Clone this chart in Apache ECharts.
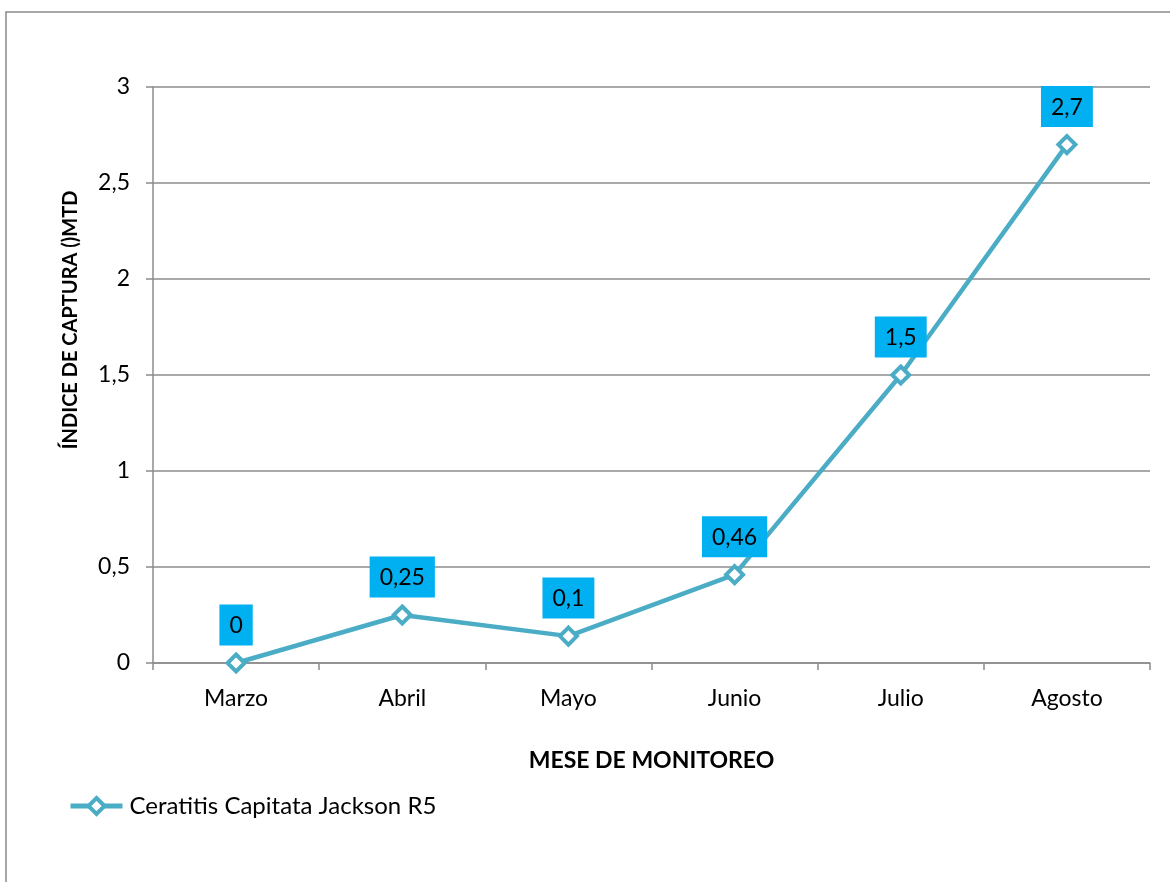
<!DOCTYPE html>
<html>
<head>
<meta charset="utf-8">
<script src="https://cdn.jsdelivr.net/npm/echarts@6/dist/echarts.min.js"></script>
<style>html,body{margin:0;padding:0;background:#fff;}#c{width:1170px;height:882px;}</style>
</head>
<body>
<div id="c"></div>
<script>
const categories = ["Marzo", "Abril", "Mayo", "Junio", "Julio", "Agosto"];
const values = [0, 0.25, 0.14, 0.46, 1.5, 2.7];
const valueLabels = ["0", "0,25", "0,1", "0,46", "1,5", "2,7"];
const seriesName = "Ceratitis Capitata Jackson R5";
const yTitle = "ÍNDICE DE CAPTURA ()MTD";
const xTitle = "MESE DE MONITOREO";

const FONT = "Lato";
const chart = echarts.init(document.getElementById('c'));
chart.setOption({
  animation: false,
  backgroundColor: '#fff',
  textStyle: { fontFamily: FONT },
  graphic: [{
    type: 'rect', shape: { x: 6, y: 12, width: 1200, height: 900 },
    style: { fill: 'none', stroke: '#8a8a8a', lineWidth: 1.5 }
  }, {
    type: 'text', x: 71, y: 320, rotation: Math.PI / 2,
    style: {
      text: yTitle, fontSize: 20, fontWeight: 'bold', fontFamily: FONT, fill: '#000',
      align: 'center', verticalAlign: 'middle'
    }
  }],
  grid: { left: 153, right: 20, top: 87, bottom: 219, containLabel: false },
  legend: {
    show: true, left: 68, top: 794, padding: 0, itemWidth: 52, itemHeight: 20,
    data: [seriesName],
    lineStyle: { width: 5 },
    itemStyle: { borderWidth: 4 },
    textStyle: { fontSize: 24, color: '#000', fontFamily: FONT, padding: [0, 0, 0, 2] }
  },
  xAxis: {
    type: 'category', data: categories, boundaryGap: true,
    name: xTitle, nameLocation: 'middle', nameGap: 86,
    nameTextStyle: { fontSize: 23, fontWeight: 'bold', color: '#000', fontFamily: FONT },
    axisLine: { lineStyle: { color: '#8c8c8c', width: 1.5 } },
    axisTick: { show: true, length: 7, lineStyle: { color: '#8c8c8c', width: 1.5 } },
    axisLabel: { fontSize: 23, color: '#000', margin: 24, fontFamily: FONT }
  },
  yAxis: {
    type: 'value', min: 0, max: 3, interval: 0.5,
    axisLine: { show: true, lineStyle: { color: '#8c8c8c', width: 1.5 } },
    axisTick: { show: true, length: 7, lineStyle: { color: '#8c8c8c', width: 1.5 } },
    splitLine: { show: true, lineStyle: { color: '#8c8c8c', width: 1.5 } },
    axisLabel: {
      fontSize: 23, color: '#000', margin: 23, fontFamily: FONT,
      formatter: v => String(v).replace('.', ',')
    }
  },
  series: [{
    name: seriesName, type: 'line', data: values,
    symbol: 'diamond', symbolSize: 17, showAllSymbol: true,
    lineStyle: { color: '#4BACC6', width: 4.5 },
    itemStyle: { color: '#ffffff', borderColor: '#4BACC6', borderWidth: 4 },
    label: {
      show: true, position: 'top', distance: 7,
      formatter: p => valueLabels[p.dataIndex],
      backgroundColor: '#00B0F0', color: '#000', fontSize: 23, fontFamily: FONT,
      padding: [9, 10, 8, 10], lineHeight: 24
    }
  }]
});
</script>
</body>
</html>
